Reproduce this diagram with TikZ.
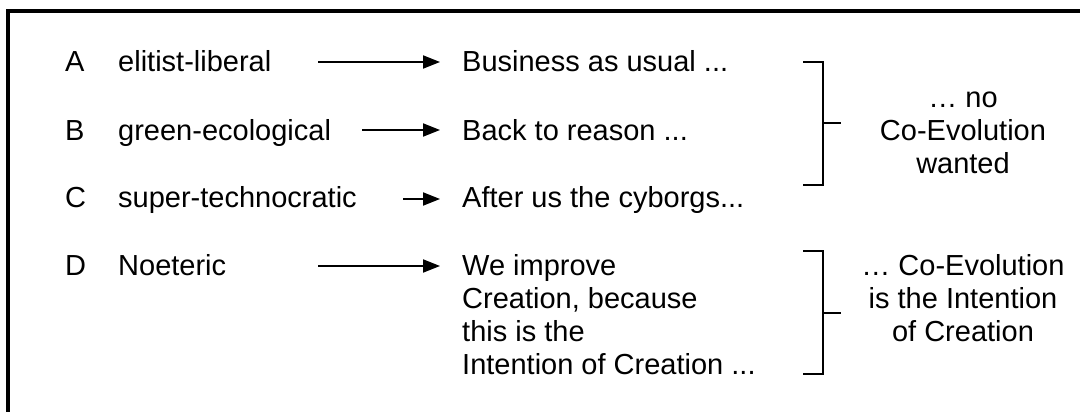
\documentclass[tikz,border=0pt]{standalone}
\usepackage{fontspec}
\setmainfont{Liberation Sans}
\usetikzlibrary{arrows.meta}
\tikzset{
  txt/.style={inner sep=0pt, anchor=base west, font=\fontsize{29}{33}\selectfont},
  rtxt/.style={inner sep=0pt, anchor=base, align=center, font=\fontsize{29}{33}\selectfont},
  arr/.style={-{Triangle[length=17pt,width=13pt]}, line width=2pt},
  brk/.style={line width=1.8pt}
}
\begin{document}
\begin{tikzpicture}[x=1pt, y=-1pt]
        \useasboundingbox (0,0) rectangle (1080,412);
        \draw[line width=4pt] (1080,11) -- (8,11) -- (8,412);

        \node[txt] (kA) at (65,72)  {A};
        \node[txt] (kB) at (65,140) {B};
        \node[txt] (kC) at (65,207) {C};
        \node[txt] (kD) at (65,275) {D};

        \node[txt] (lA) at (118,72)  {elitist-liberal};
        \node[txt] (lB) at (118,140) {green-ecological};
        \node[txt] (lC) at (118,207) {super-technocratic};
        \node[txt] (lD) at (118,275) {Noeteric};

        % multi-line nodes sit on their last baseline
        \node[txt] (tA) at (462,72)  {Business as usual ...};
        \node[txt] (tB) at (462,140) {Back to reason ...};
        \node[txt] (tC) at (462,207) {After us the cyborgs...};
        \node[txt, align=left] (tD) at (462,374) {We improve\\Creation, because\\this is the\\Intention of Creation ...};

        \coordinate (sA) at (318,62);
        \coordinate (sB) at (362,130);
        \coordinate (sC) at (403,199);
        \coordinate (sD) at (318,266);
        \draw[arr] (sA) -- ([xshift=-22pt]tA.west |- sA);
        \draw[arr] (sB) -- ([xshift=-22pt]tB.west |- sB);
        \draw[arr] (sC) -- ([xshift=-22pt]tC.west |- sC);
        \draw[arr] (sD) -- ([xshift=-22pt]tD.west |- sD);

        % brackets
        \draw[brk] (803,62) -- (823,62) -- (823,185) -- (803,185);
        \draw[brk] (823,123) -- (841,123);
        \draw[brk] (803,251) -- (823,251) -- (823,374) -- (803,374);
        \draw[brk] (823,313) -- (841,313);

        \node[rtxt] (cA) at (963,173) {… no\\Co-Evolution\\wanted};
        \node[rtxt] (cD) at (963,341) {… Co-Evolution\\is the Intention\\of Creation};
\end{tikzpicture}
\end{document}
